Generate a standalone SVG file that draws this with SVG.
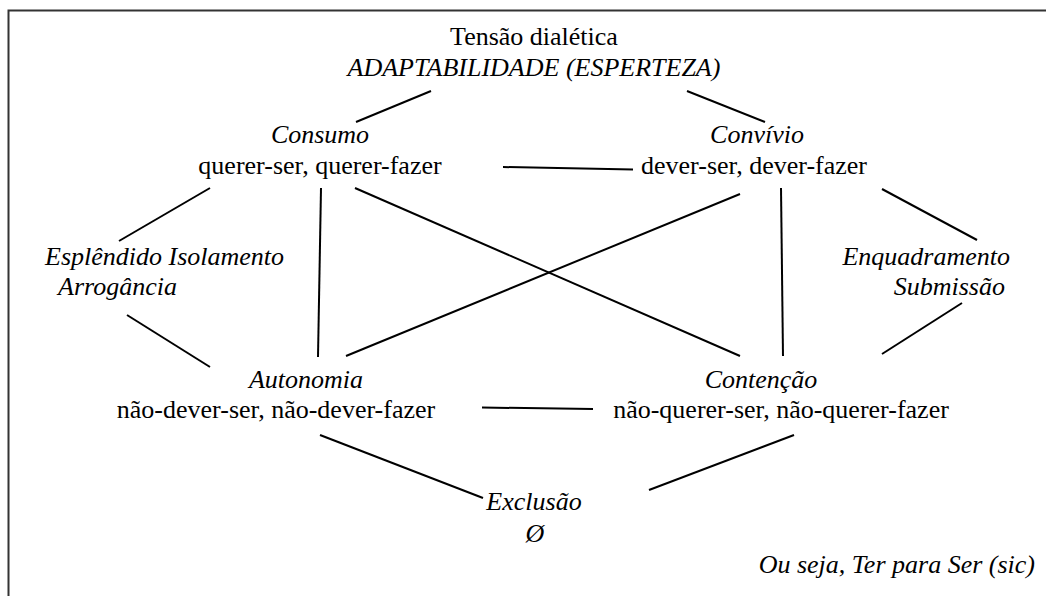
<svg xmlns="http://www.w3.org/2000/svg" width="1046" height="596" viewBox="0 0 1046 596">
<style>
text{font-family:'Liberation Serif','Times New Roman',serif;font-size:26px;fill:#000}
.i{font-style:italic}
.m{text-anchor:middle}
.e{text-anchor:end}
#connectors line{stroke:#000;stroke-width:2;fill:none}
</style>
<rect width="1046" height="596" fill="#fff"/>
<path d="M8.5,596 V10.5 H1046" fill="none" stroke="#333" stroke-width="2"/>
<g id="tensao">
<text class="m" x="534" y="45">Tensão dialética</text>
<text class="m i" x="534" y="76">ADAPTABILIDADE (ESPERTEZA)</text>
</g>
<g id="consumo">
<text class="m i" x="320" y="143">Consumo</text>
<text class="m" x="320" y="174">querer-ser, querer-fazer</text>
</g>
<g id="convivio">
<text class="m i" x="757" y="143">Convívio</text>
<text class="m" x="754" y="174">dever-ser, dever-fazer</text>
</g>
<g id="esplendido">
<text class="i" x="45" y="265">Esplêndido Isolamento</text>
<text class="i" x="58" y="295">Arrogância</text>
</g>
<g id="enquadramento">
<text class="i e" x="1010" y="265">Enquadramento</text>
<text class="i e" x="1005" y="295">Submissão</text>
</g>
<g id="autonomia">
<text class="m i" x="306" y="388">Autonomia</text>
<text class="m" x="276" y="418">não-dever-ser, não-dever-fazer</text>
</g>
<g id="contencao">
<text class="m i" x="761" y="388">Contenção</text>
<text class="m" x="781" y="418">não-querer-ser, não-querer-fazer</text>
</g>
<g id="exclusao">
<text class="m i" x="534" y="510">Exclusão</text>
<text class="m i" x="535" y="542">Ø</text>
</g>
<g id="nota">
<text class="i e" x="1035" y="573">Ou seja, Ter para Ser (sic)</text>
</g>
<g id="connectors">
<line x1="431" y1="91" x2="356" y2="122"/>
<line x1="687" y1="91" x2="765" y2="122"/>
<line x1="503" y1="167" x2="633" y2="169.5"/>
<line x1="210" y1="188" x2="119" y2="241"/>
<line x1="321" y1="188" x2="318" y2="357"/>
<line x1="355" y1="188" x2="740" y2="356"/>
<line x1="740" y1="194" x2="346" y2="356"/>
<line x1="781" y1="188" x2="783" y2="356"/>
<line x1="882" y1="189" x2="977" y2="240"/>
<line x1="962" y1="303" x2="882" y2="354"/>
<line x1="127" y1="315" x2="210" y2="367"/>
<line x1="482" y1="407.5" x2="593" y2="409"/>
<line x1="320" y1="435" x2="483" y2="498"/>
<line x1="794" y1="435" x2="649" y2="490"/>
</g>
</svg>
